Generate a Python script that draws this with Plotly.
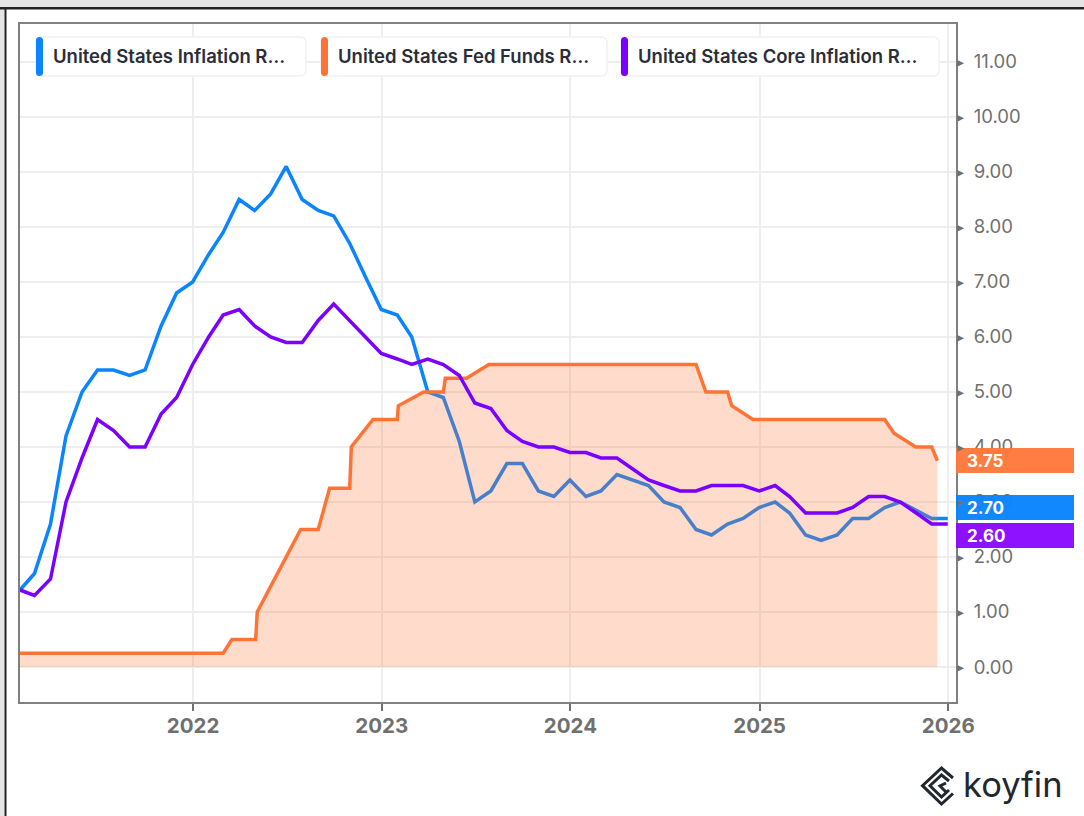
import pandas as pd
import plotly.graph_objects as go

W, H = 1084, 816
L, R, T, B = 20, 956, 24, 702

months = pd.date_range("2021-01-31", "2025-12-31", freq="ME")
inflation = [1.4,1.7,2.6,4.2,5.0,5.4,5.4,5.3,5.4,6.2,6.8,7.0,
             7.5,7.9,8.5,8.3,8.6,9.1,8.5,8.3,8.2,7.7,7.1,6.5,
             6.4,6.0,5.0,4.9,4.1,3.0,3.2,3.7,3.7,3.2,3.1,3.4,
             3.1,3.2,3.5,3.4,3.3,3.0,2.9,2.5,2.4,2.6,2.7,2.9,
             3.0,2.8,2.4,2.3,2.4,2.7,2.7,2.9,3.0,2.85,2.7,2.7]
core = [1.4,1.3,1.6,3.0,3.8,4.5,4.3,4.0,4.0,4.6,4.9,5.5,
        6.0,6.4,6.5,6.2,6.0,5.9,5.9,6.3,6.6,6.3,6.0,5.7,
        5.6,5.5,5.6,5.5,5.3,4.8,4.7,4.3,4.1,4.0,4.0,3.9,
        3.9,3.8,3.8,3.6,3.4,3.3,3.2,3.2,3.3,3.3,3.3,3.2,
        3.3,3.1,2.8,2.8,2.8,2.9,3.1,3.1,3.0,2.8,2.6,2.6]
fed_dates = ["2021-01-31","2022-02-28","2022-03-17","2022-05-02","2022-05-05","2022-07-28","2022-08-31",
             "2022-09-22","2022-10-31","2022-11-03","2022-12-15","2023-01-31","2023-02-02","2023-03-23",
             "2023-04-30","2023-05-04","2023-06-14","2023-07-27","2024-08-31","2024-09-19","2024-10-31",
             "2024-11-08","2024-12-19","2025-08-31","2025-09-18","2025-10-30","2025-11-30","2025-12-11"]
fed = [0.25,0.25,0.5,0.5,1.0,2.5,2.5,3.25,3.25,4.0,4.5,4.5,4.75,5.0,5.0,5.25,5.25,5.5,5.5,5.0,5.0,
       4.75,4.5,4.5,4.25,4.0,4.0,3.75]
y_ticks = [0,1,2,3,4,5,6,7,8,9,10,11]
y_labels = ["0.00","1.00","2.00","3.00","4.00","5.00","6.00","7.00","8.00","9.00","10.00","11.00"]
x_ticks = ["2022-01-01","2023-01-01","2024-01-01","2025-01-01","2026-01-01"]
x_labels = ["2022","2023","2024","2025","2026"]
legend_names = ["United States Inflation R…","United States Fed Funds R…","United States Core Inflation R…"]

BLUE, ORANGE, PURPLE = "#0A84FF", "#FF7436", "#7A00FF"
GREY = "#707070"
FONT = "Inter"

def px(x): return (x - L) / (R - L)
def py(y): return (B - y) / (B - T)

def rrect(x0, y0, x1, y1, r):
    c = [(x0+r,y0),(x1-r,y0),(x1,y0),(x1,y0+r),(x1,y1-r),(x1,y1),(x1-r,y1),(x0+r,y1),(x0,y1),(x0,y1-r),(x0,y0+r),(x0,y0)]
    p = lambda a: f"{px(a[0]):.5f},{py(a[1]):.5f}"
    return (f"M{p(c[0])} L{p(c[1])} Q{p(c[2])} {p(c[3])} L{p(c[4])} Q{p(c[5])} {p(c[6])} "
            f"L{p(c[7])} Q{p(c[8])} {p(c[9])} L{p(c[10])} Q{p(c[11])} {p(c[0])} Z")

def poly(points, close=False):
    s = "M" + " L".join(f"{px(x):.5f},{py(y):.5f}" for x, y in points)
    return s + (" Z" if close else "")

fig = go.Figure()
fig.add_trace(go.Scatter(x=months, y=inflation, mode="lines", line=dict(color=BLUE, width=3.5), showlegend=False))
fig.add_trace(go.Scatter(x=pd.to_datetime(fed_dates), y=fed, mode="lines", line=dict(color=ORANGE, width=3.5),
                         fill="tozeroy", fillcolor="rgba(250,116,54,0.26)", showlegend=False))
fig.add_trace(go.Scatter(x=months, y=core, mode="lines", line=dict(color=PURPLE, width=3.5), showlegend=False))

shapes, notes = [], []
def rect(x0, y0, x1, y1, color):
    shapes.append(dict(type="rect", xref="paper", yref="paper", x0=px(x0), x1=px(x1), y0=py(y0), y1=py(y1),
                       fillcolor=color, line=dict(width=0), layer="above"))

# page frame
rect(0, 0, W, 7, "#E5E5E5")
rect(0, 0, 4.5, H, "#E5E5E5")
rect(0, 7, W, 9.5, "#222222")
rect(4.5, 7, 6.5, H, "#222222")

# legend chips
chips = [(36, 306, BLUE), (321, 607, ORANGE), (621, 939, PURPLE)]
for (x0, x1, col), name in zip(chips, legend_names):
    shapes.append(dict(type="path", xref="paper", yref="paper", path=rrect(x0, 37, x1, 76, 6),
                       fillcolor="white", line=dict(color="#F1F1F3", width=1.5), layer="above"))
    shapes.append(dict(type="path", xref="paper", yref="paper", path=rrect(x0, 37, x0+7, 76, 3.5),
                       fillcolor=col, line=dict(width=0), layer="above"))
    notes.append(dict(xref="paper", yref="paper", x=px(x0+15), y=py(56.5), text=name, showarrow=False,
                      xanchor="left", yanchor="middle", font=dict(family=FONT, size=18.5, color="#2A2E39", weight=600)))

# right-axis tick pointers
for v in y_ticks:
    notes.append(dict(xref="paper", yref="y", x=px(954.5), y=v, text="▸", showarrow=False, xanchor="left",
                      yanchor="middle", font=dict(family="DejaVu Sans", size=14, color=GREY)))

# last-value tags
tags = [("3.75", 448, 473, "rgba(255,120,60,0.97)"), ("2.70", 495, 520, "rgba(10,132,255,0.97)"),
        ("2.60", 523, 548, "rgba(138,10,255,0.97)")]
for txt, y0, y1, col in tags:
    rect(R, y0, 1074, y1, col)
    notes.append(dict(xref="paper", yref="paper", x=px(964.5), y=py((y0+y1)/2), text=txt, showarrow=False,
                      xanchor="left", yanchor="middle", font=dict(family=FONT, size=17, color="white", weight=700)))

# koyfin logo
DARK = "#22272E"
for pts in ([(953,778),(941.5,768),(922.5,785.7),(941.5,804),(953,793.5)],
            [(949,781),(941.5,775),(930,785.7),(941.5,797),(949,790)],
            [(946,783),(940,786),(946,792)]):
    shapes.append(dict(type="path", xref="paper", yref="paper", path=poly(pts), fillcolor="rgba(0,0,0,0)",
                       line=dict(color=DARK, width=3), layer="above"))
notes.append(dict(xref="paper", yref="paper", x=px(961), y=py(784), text="koyfin", showarrow=False,
                  xanchor="left", yanchor="middle", font=dict(family=FONT, size=34.5, color=DARK, weight=400)))

fig.update_layout(
    width=W, height=H, autosize=False,
    margin=dict(l=L, r=W-R, t=T, b=H-B, pad=0),
    paper_bgcolor="white", plot_bgcolor="white",
    shapes=shapes, annotations=notes, showlegend=False,
    xaxis=dict(type="date", range=["2021-01-31", "2026-01-16"], tickmode="array", tickvals=x_ticks, ticktext=x_labels,
               showgrid=True, gridcolor="#EEEEEE", gridwidth=2, ticks="outside", ticklen=7, tickwidth=1.5,
               tickcolor=GREY, showline=True, linecolor="#808080", linewidth=2, mirror=True,
               ticklabelstandoff=-3,
               tickfont=dict(family=FONT, size=20.5, color=GREY, weight=700), zeroline=False),
    yaxis=dict(side="right", range=[-0.636, 11.69], tickmode="array", tickvals=y_ticks, ticktext=y_labels,
               showgrid=True, gridcolor="#EEEEEE", gridwidth=2, ticks="", showline=True, linecolor="#808080",
               linewidth=2, mirror=True, zeroline=False, ticklabelstandoff=12,
               tickfont=dict(family=FONT, size=18.5, color=GREY)),
)
fig.write_html("out.html", config={"displayModeBar": False}, post_script="document.body.style.margin='0';")
